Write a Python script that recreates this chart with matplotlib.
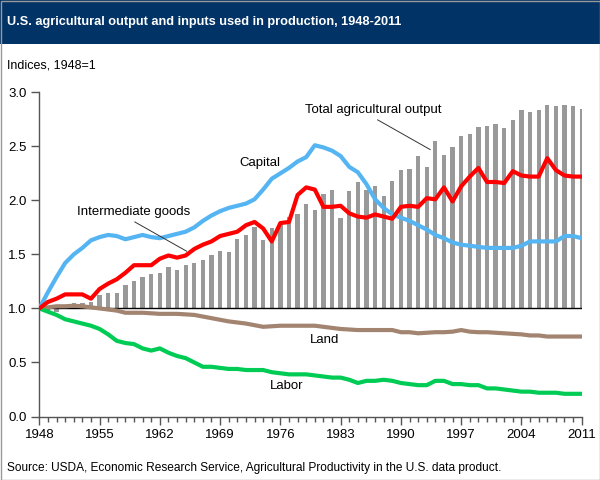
import matplotlib
matplotlib.use("Agg")
import matplotlib.pyplot as plt
from matplotlib.patches import Rectangle
import numpy as np

plt.rcParams['font.family'] = ['Liberation Sans', 'DejaVu Sans']

years = list(range(1948, 2012))

output = [1.00, 0.98, 0.97, 1.02, 1.05, 1.05, 1.06, 1.12, 1.14, 1.14,
          1.22, 1.25, 1.29, 1.32, 1.33, 1.38, 1.36, 1.40, 1.42, 1.45,
          1.49, 1.53, 1.52, 1.64, 1.68, 1.75, 1.63, 1.74, 1.78, 1.85,
          1.87, 1.97, 1.91, 2.06, 2.10, 1.84, 2.09, 2.17, 2.10, 2.13,
          2.04, 2.18, 2.28, 2.29, 2.41, 2.31, 2.55, 2.42, 2.49, 2.60,
          2.61, 2.68, 2.69, 2.71, 2.67, 2.74, 2.84, 2.82, 2.84, 2.88,
          2.87, 2.88, 2.87, 2.85]

capital = [1.00, 1.15, 1.29, 1.42, 1.50, 1.56, 1.63, 1.66, 1.68, 1.67,
           1.64, 1.66, 1.68, 1.66, 1.65, 1.67, 1.69, 1.71, 1.75, 1.81,
           1.86, 1.90, 1.93, 1.95, 1.97, 2.01, 2.10, 2.20, 2.25, 2.30,
           2.36, 2.40, 2.51, 2.49, 2.46, 2.41, 2.31, 2.26, 2.15, 2.01,
           1.93, 1.87, 1.84, 1.81, 1.77, 1.73, 1.68, 1.65, 1.61, 1.59,
           1.58, 1.57, 1.56, 1.56, 1.56, 1.56, 1.58, 1.62, 1.62, 1.62,
           1.62, 1.67, 1.67, 1.65]

intermediate = [1.00, 1.06, 1.09, 1.13, 1.13, 1.13, 1.09, 1.18, 1.23, 1.27,
                1.33, 1.40, 1.40, 1.40, 1.46, 1.49, 1.47, 1.49, 1.55, 1.59,
                1.62, 1.67, 1.69, 1.71, 1.77, 1.80, 1.74, 1.62, 1.79, 1.80,
                2.05, 2.12, 2.10, 1.94, 1.94, 1.95, 1.88, 1.85, 1.84, 1.87,
                1.85, 1.83, 1.94, 1.95, 1.94, 2.02, 2.01, 2.12, 1.99, 2.13,
                2.22, 2.30, 2.17, 2.17, 2.16, 2.27, 2.23, 2.22, 2.22, 2.39,
                2.28, 2.23, 2.22, 2.22]

land = [1.00, 1.01, 1.02, 1.02, 1.025, 1.02, 1.01, 1.00, 0.99, 0.98,
        0.96, 0.96, 0.96, 0.955, 0.95, 0.95, 0.95, 0.945, 0.94, 0.925,
        0.91, 0.895, 0.88, 0.87, 0.86, 0.845, 0.83, 0.835, 0.84, 0.84,
        0.84, 0.84, 0.84, 0.83, 0.82, 0.81, 0.805, 0.80, 0.80, 0.80,
        0.80, 0.80, 0.78, 0.78, 0.77, 0.775, 0.78, 0.78, 0.785, 0.80,
        0.785, 0.78, 0.78, 0.775, 0.77, 0.765, 0.76, 0.75, 0.75, 0.74,
        0.74, 0.74, 0.74, 0.74]

labor = [1.00, 0.97, 0.94, 0.90, 0.88, 0.86, 0.84, 0.81, 0.76, 0.70,
         0.68, 0.67, 0.63, 0.61, 0.63, 0.59, 0.56, 0.54, 0.50, 0.46,
         0.46, 0.45, 0.44, 0.44, 0.43, 0.43, 0.43, 0.41, 0.40, 0.39,
         0.39, 0.39, 0.38, 0.37, 0.36, 0.36, 0.34, 0.31, 0.33, 0.33,
         0.34, 0.33, 0.31, 0.30, 0.29, 0.29, 0.33, 0.33, 0.30, 0.30,
         0.29, 0.29, 0.26, 0.26, 0.25, 0.24, 0.23, 0.23, 0.22, 0.22,
         0.22, 0.21, 0.21, 0.21]

xticks = [1948, 1955, 1962, 1969, 1976, 1983, 1990, 1997, 2004, 2011]
yticks = [0.0, 0.5, 1.0, 1.5, 2.0, 2.5, 3.0]

title = "U.S. agricultural output and inputs used in production, 1948-2011"
ylabel = "Indices, 1948=1"
source = "Source: USDA, Economic Research Service, Agricultural Productivity in the U.S. data product."

fig = plt.figure(figsize=(6, 4.8), dpi=100)
fig.patch.set_facecolor('white')

# title bar
fig.add_artist(Rectangle((0, 1 - 44/480), 1, 44/480, transform=fig.transFigure,
                         facecolor='#023366', edgecolor='none', zorder=0))
fig.text(7/600, 1 - 22/480, title, color='white', fontsize=9.2, fontweight='bold',
         va='center', ha='left')
fig.text(7/600, 1 - 66/480, ylabel, color='black', fontsize=9, va='center', ha='left')
fig.text(7/600, 1 - 468/480, source, color='black', fontsize=8.6, va='center', ha='left')
# border
fig.add_artist(Rectangle((0.5/600, 0.5/480), 599/600, 479/480, transform=fig.transFigure,
                         facecolor='none', edgecolor='#999999', lw=1))

ax = fig.add_axes([39.3/600, 1 - 416.5/480, (581.7 - 39.3)/600, (416.5 - 92.3)/480])
ax.set_facecolor('white')

heights = [v - 1.0 for v in output]
ax.bar(years, heights, bottom=1.0, width=0.5, color='#999999', zorder=2)
ax.axhline(1.0, color='black', lw=1, zorder=3)

ax.plot(years, land, color='#A28470', lw=3, zorder=4, solid_capstyle='round')
ax.plot(years, labor, color='#00CC55', lw=3, zorder=4, solid_capstyle='round')
ax.plot(years, capital, color='#55B4F2', lw=3, zorder=5, solid_capstyle='round')
ax.plot(years, intermediate, color='#FF0000', lw=3, zorder=6, solid_capstyle='round')

ax.set_xlim(1948, 2011)
ax.set_ylim(0, 3.0)
ax.set_xticks(xticks)
ax.set_xticks(range(1948, 2012), minor=True)
ax.set_yticks(yticks)
ax.set_yticklabels([f"{v:.1f}" for v in yticks])
ax.tick_params(axis='both', which='both', direction='out', colors='#555555',
               labelcolor='black', labelsize=9.5, width=1)
ax.tick_params(axis='x', which='major', length=6, pad=3)
ax.tick_params(axis='x', which='minor', length=3.4)
ax.tick_params(axis='y', which='major', length=6, pad=3)
for s in ['top', 'right']:
    ax.spines[s].set_visible(False)
for s in ['left', 'bottom']:
    ax.spines[s].set_color('#555555')
    ax.spines[s].set_linewidth(1)

# annotations
ax.text(1986.8, 2.84, "Total agricultural output", fontsize=9.5, ha='center', va='center')
ax.plot([1987.3, 1993.4], [2.745, 2.47], color='#333333', lw=0.7, zorder=7)
ax.text(1973.6, 2.35, "Capital", fontsize=9.5, ha='center', va='center')
ax.text(1959.0, 1.89, "Intermediate goods", fontsize=9.5, ha='center', va='center')
ax.plot([1959.1, 1965.1], [1.80, 1.53], color='#333333', lw=0.7, zorder=7)
ax.text(1981.1, 0.71, "Land", fontsize=9.5, ha='center', va='center')
ax.text(1976.7, 0.28, "Labor", fontsize=9.5, ha='center', va='center')

fig.savefig("out.png", dpi=100)
